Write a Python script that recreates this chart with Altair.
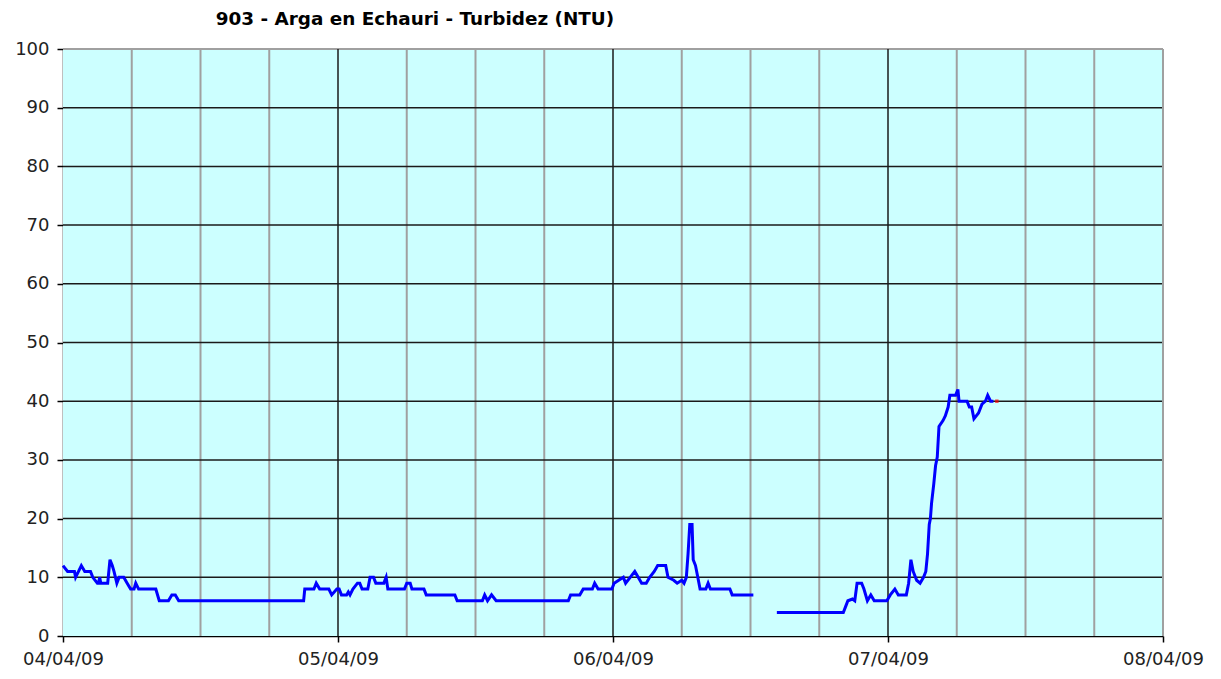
import altair as alt
import pandas as pd

# hours since 04/04/09 00:00 and turbidity (NTU)
seg_a_hours = [0, 0.4, 1.0, 1.1, 1.6, 1.9, 2.4, 2.6, 3.0, 3.1, 3.2, 3.3, 3.9, 4.1, 4.3, 4.45, 4.7, 4.9,
               5.3, 5.6, 5.9, 6.2, 6.35, 6.6, 8.1, 8.4, 9.2, 9.5, 9.8, 10.1, 21.0, 21.1, 21.9, 22.1,
               22.4, 23.2, 23.45, 23.9, 24.1, 24.3, 24.75, 24.9, 25.05, 25.3, 25.7, 25.9, 26.1, 26.6,
               26.8, 27.1, 27.3, 28.0, 28.2, 28.35, 29.8, 30.0, 30.3, 30.45, 31.5, 31.7, 34.2, 34.4,
               36.6, 36.8, 37.05, 37.4, 37.8, 44.1, 44.3, 45.1, 45.4, 46.2, 46.4, 46.7, 47.9, 48.1,
               48.5, 48.9, 49.1, 49.5, 49.9, 50.2, 50.5, 50.9, 51.2, 51.6, 51.9, 52.6, 52.8, 53.3,
               53.6, 54.0, 54.2, 54.4, 54.55, 54.7, 54.9, 55.0, 55.2, 55.4, 55.6, 56.1, 56.3, 56.5,
               58.2, 58.4, 60.25]
seg_a_values = [12, 11, 11, 10, 12, 11, 11, 10, 9, 9, 10, 9, 9, 13, 12, 11, 9, 10,
                10, 9, 8, 8, 9, 8, 8, 6, 6, 7, 7, 6, 6, 8, 8, 9,
                8, 8, 7, 8, 8, 7, 7, 7.5, 7, 8, 9, 9, 8, 8,
                10, 10, 9, 9, 10, 8, 8, 9, 9, 8, 8, 7, 7, 6,
                6, 7, 6, 7, 6, 6, 7, 7, 8, 8, 9, 8, 8, 9,
                9.5, 10, 9, 10, 11, 10, 9, 9, 10, 11, 12, 12, 10, 9.5,
                9, 9.5, 9, 10, 14, 19, 19, 13, 12, 10, 8, 8, 9, 8,
                8, 7, 7]

seg_b_hours = [62.3, 68.1, 68.3, 68.5, 68.9, 69.1, 69.3, 69.7, 69.9, 70.2, 70.5, 70.8, 71.9, 72.2,
               72.6, 72.9, 73.6, 73.8, 74.0, 74.2, 74.5, 74.8, 75.1, 75.3, 75.45, 75.6, 75.7, 75.8,
               76.0, 76.15, 76.3, 76.45, 76.8, 77.0, 77.25, 77.4, 77.9, 78.1, 78.2, 78.9, 79.1,
               79.3, 79.5, 79.9, 80.2, 80.5, 80.7, 80.95, 81.2]
seg_b_values = [4, 4, 5, 6, 6.3, 6, 9, 9, 8, 6, 7, 6, 6, 7,
                8, 7, 7, 9, 13, 11, 9.5, 9, 10, 11, 14, 19, 20, 22.6,
                26, 29, 30.5, 35.7, 36.7, 37.5, 39, 41, 41, 42, 40, 40, 39,
                39, 37, 38, 39.5, 40, 41, 40, 40]

last_hour = [81.5]
last_value = [40]

day_hours = [0, 24, 48, 72, 96]
day_labels = ["04/04/09", "05/04/09", "06/04/09", "07/04/09", "08/04/09"]
minor_hours = [6, 12, 18, 30, 36, 42, 54, 60, 66, 78, 84, 90]
major_hours = [24, 48, 72]
y_grid = [10, 20, 30, 40, 50, 60, 70, 80, 90]

line_df = pd.DataFrame({
    "h": seg_a_hours + seg_b_hours,
    "v": seg_a_values + seg_b_values,
    "seg": ["a"] * len(seg_a_hours) + ["b"] * len(seg_b_hours),
})
last_df = pd.DataFrame({"h": last_hour, "v": last_value})

label_map = "{" + ",".join(f"'{h}':'{l}'" for h, l in zip(day_hours, day_labels)) + "}"

x_scale = alt.Scale(domain=[0, 96], nice=False, zero=False)
y_scale = alt.Scale(domain=[0, 100], nice=False)

FONT = "DejaVu Sans"

x_axis = alt.Axis(values=day_hours, labelExpr=f"{label_map}[datum.value + '']", title=None,
                  grid=False, domainColor="black", domainWidth=1.5, tickColor="black",
                  tickSize=6, tickWidth=1.5, labelFont=FONT, labelFontSize=18,
                  labelColor="#222222", labelPadding=8, labelFlush=False)
y_axis = alt.Axis(values=list(range(0, 101, 10)), title=None, grid=False, domainColor="black",
                  domainWidth=1.5, tickColor="black", tickSize=6, tickWidth=1.5,
                  labelFont=FONT, labelFontSize=18, labelColor="#222222", labelPadding=8)

bg = alt.Chart(pd.DataFrame({"h0": [0], "h1": [96], "v0": [0], "v1": [100]})).mark_rect(
    color="#ccffff").encode(
    x=alt.X("h0:Q", scale=x_scale, axis=x_axis), x2="h1:Q",
    y=alt.Y("v0:Q", scale=y_scale, axis=y_axis), y2="v1:Q")
minor = alt.Chart(pd.DataFrame({"h": minor_hours})).mark_rule(color="#a0a0a0", strokeWidth=2).encode(
    x=alt.X("h:Q", scale=x_scale))
hgrid = alt.Chart(pd.DataFrame({"v": y_grid})).mark_rule(color="#1a1a1a", strokeWidth=1.5).encode(
    y=alt.Y("v:Q", scale=y_scale))
top = alt.Chart(pd.DataFrame({"v": [100]})).mark_rule(color="#a0a0a0", strokeWidth=2).encode(
    y=alt.Y("v:Q", scale=y_scale))
right = alt.Chart(pd.DataFrame({"h": [96]})).mark_rule(color="#a0a0a0", strokeWidth=2).encode(
    x=alt.X("h:Q", scale=x_scale))
major = alt.Chart(pd.DataFrame({"h": major_hours})).mark_rule(color="#1a1a1a", strokeWidth=1.5).encode(
    x=alt.X("h:Q", scale=x_scale))

line = alt.Chart(line_df).mark_line(color="#0000ff", strokeWidth=3, interpolate="linear").encode(
    x=alt.X("h:Q", scale=x_scale),
    y=alt.Y("v:Q", scale=y_scale),
    detail="seg:N",
)
last = alt.Chart(last_df).mark_point(color="#ff0000", filled=True, size=12, shape="square").encode(
    x=alt.X("h:Q", scale=x_scale),
    y=alt.Y("v:Q", scale=y_scale),
)

chart = alt.layer(bg, minor, hgrid, top, right, major, line, last).properties(
    width=1100,
    height=587,
    title=alt.TitleParams("903 - Arga en Echauri - Turbidez (NTU)", anchor="start", dx=201,
                          font=FONT, fontSize=18.4, fontWeight="bold", color="black", offset=12),
    autosize=alt.AutoSizeParams(type="none"),
    padding={"left": 55, "top": 41, "right": 50, "bottom": 40},
).configure_view(stroke=None)

chart.save("out.html", embed_options={"renderer": "svg", "actions": False})
